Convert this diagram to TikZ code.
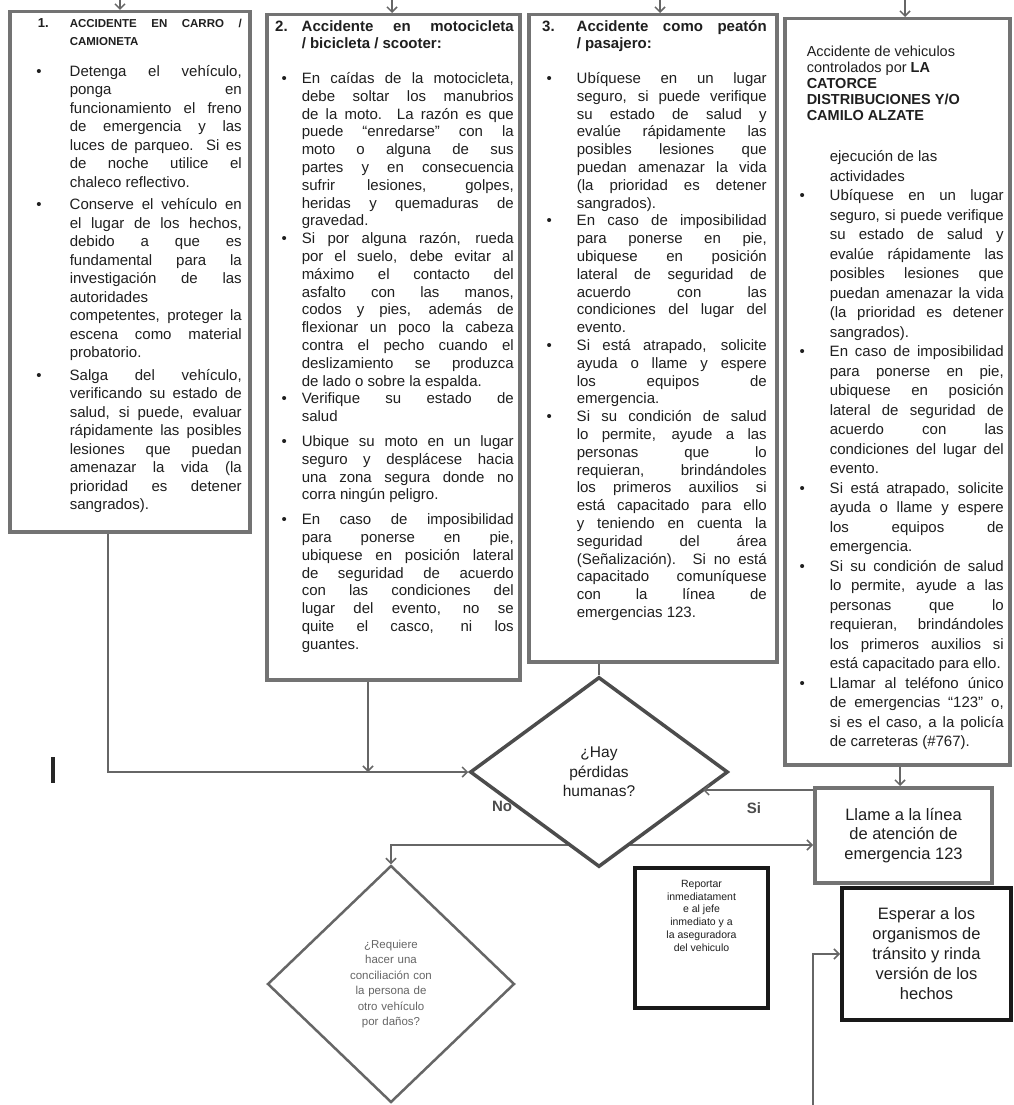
\documentclass[tikz,border=0pt]{standalone}
\usepackage{fontspec}
\setmainfont{Liberation Sans}
\usetikzlibrary{shapes.geometric,arrows.meta}
\pgfdeclarelayer{bg}
\pgfsetlayers{bg,main}
\definecolor{ink}{gray}{0.12}
\newlength\bsep
\newcommand\itm[1]{\noindent\llap{\textbullet\hspace{\bsep}}#1\par}
\newcommand\boxsetup[4]{\setlength\leftskip{#1}\setlength\rightskip{#2}\fontsize{#3}{#4}\selectfont\setlength\parindent{0pt}\setlength\parskip{0pt}\tolerance=10000 \hbadness=10000 \hyphenpenalty=10000 \color{ink}}
\begin{document}
\begin{tikzpicture}[x=1pt,y=-1pt,
  >={Straight Barb[length=5pt,width=10pt]},
  gbox/.style={draw=black!55, line width=3.5pt, inner sep=0pt, anchor=north west},
  conn/.style={draw=black!60, line width=1.5pt},
  lbl/.style={font=\fontsize{15pt}{18pt}\selectfont\bfseries, text=black!70, inner sep=1pt},
]
\begin{pgfonlayer}{bg}
\fill[white] (0,0) rectangle (1013,1105);
\end{pgfonlayer}
\useasboundingbox (0,0) rectangle (1013,1105);

% ---------- Box 1
\node[gbox] (b1) at (8,10) {\begin{minipage}[t][520pt][t]{240pt}\boxsetup{60pt}{8pt}{15pt}{18.5pt}\setlength\bsep{28pt}%
\vspace*{7pt}
{\fontsize{11.5pt}{18pt}\selectfont\bfseries\noindent\llap{\fontsize{13pt}{18pt}\selectfont 1.\hspace{21pt}}ACCIDENTE EN CARRO /\linebreak CAMIONETA\par}
\vspace{12pt}
\itm{Detenga el vehículo,\linebreak ponga en\linebreak funcionamiento el freno\linebreak de emergencia y las\linebreak luces de parqueo. Si es\linebreak de noche utilice el\linebreak chaleco reflectivo.}
\vspace{4pt}
\itm{Conserve el vehículo en\linebreak el lugar de los hechos,\linebreak debido a que es\linebreak fundamental para la\linebreak investigación de las\linebreak autoridades\linebreak competentes, proteger la\linebreak escena como material\linebreak probatorio.}
\vspace{4pt}
\itm{Salga del vehículo,\linebreak verificando su estado de\linebreak salud, si puede, evaluar\linebreak rápidamente las posibles\linebreak lesiones que puedan\linebreak amenazar la vida (la\linebreak prioridad es detener\linebreak sangrados).}
\end{minipage}};

% ---------- Box 2
\node[gbox] (b2) at (265,13) {\begin{minipage}[t][665pt][t]{253pt}\boxsetup{35pt}{6pt}{15pt}{17.8pt}\setlength\bsep{15pt}%
\vspace*{6pt}
{\fontsize{15pt}{17pt}\selectfont\bfseries\noindent\llap{2.\hspace{14pt}}Accidente en motocicleta\linebreak / bicicleta / scooter:\par}
\vspace{17pt}
\itm{En caídas de la motocicleta,\linebreak debe soltar los manubrios\linebreak de la moto. La razón es que\linebreak puede “enredarse” con la\linebreak moto o alguna de sus\linebreak partes y en consecuencia\linebreak sufrir lesiones, golpes,\linebreak heridas y quemaduras de\linebreak gravedad.}
\itm{Si por alguna razón, rueda\linebreak por el suelo, debe evitar al\linebreak máximo el contacto del\linebreak asfalto con las manos,\linebreak codos y pies, además de\linebreak flexionar un poco la cabeza\linebreak contra el pecho cuando el\linebreak deslizamiento se produzca\linebreak de lado o sobre la espalda.}
\itm{Verifique su estado de\linebreak salud}
\vspace{7pt}
\itm{Ubique su moto en un lugar\linebreak seguro y desplácese hacia\linebreak una zona segura donde no\linebreak corra ningún peligro.}
\vspace{7pt}
\itm{En caso de imposibilidad\linebreak para ponerse en pie,\linebreak ubiquese en posición lateral\linebreak de seguridad de acuerdo\linebreak con las condiciones del\linebreak lugar del evento, no se\linebreak quite el casco, ni los\linebreak guantes.}
\end{minipage}};

% ---------- Box 3
\node[gbox] (b3) at (527,13) {\begin{minipage}[t][647pt][t]{248pt}\boxsetup{48pt}{10pt}{15pt}{17.8pt}\setlength\bsep{25pt}%
\vspace*{6pt}
{\fontsize{15pt}{17pt}\selectfont\bfseries\noindent\llap{3.\hspace{22pt}}Accidente como peatón\linebreak / pasajero:\par}
\vspace{17pt}
\itm{Ubíquese en un lugar\linebreak seguro, si puede verifique\linebreak su estado de salud y\linebreak evalúe rápidamente las\linebreak posibles lesiones que\linebreak puedan amenazar la vida\linebreak (la prioridad es detener\linebreak sangrados).}
\itm{En caso de imposibilidad\linebreak para ponerse en pie,\linebreak ubiquese en posición\linebreak lateral de seguridad de\linebreak acuerdo con las\linebreak condiciones del lugar del\linebreak evento.}
\itm{Si está atrapado, solicite\linebreak ayuda o llame y espere\linebreak los equipos de\linebreak emergencia.}
\itm{Si su condición de salud\linebreak lo permite, ayude a las\linebreak personas que lo\linebreak requieran, brindándoles\linebreak los primeros auxilios si\linebreak está capacitado para ello\linebreak y teniendo en cuenta la\linebreak seguridad del área\linebreak (Señalización). Si no está\linebreak capacitado comuníquese\linebreak con la línea de\linebreak emergencias 123.}
\end{minipage}};

% ---------- Box 4
\node[gbox] (b4) at (783,17) {\begin{minipage}[t][746pt][t]{225pt}\boxsetup{45pt}{6pt}{15pt}{19.5pt}\setlength\bsep{25pt}%
\vspace*{27.5pt}
{\fontsize{14.5pt}{16pt}\selectfont\raggedright\setlength\leftskip{22pt}Accidente de vehiculos\\ controlados por \textbf{LA}\\ \textbf{CATORCE}\\ \textbf{DISTRIBUCIONES Y/O}\\ \textbf{CAMILO ALZATE}\par}
\vspace{21.5pt}
{\raggedright\setlength\leftskip{45pt}ejecución de las\\ actividades\par}
\itm{Ubíquese en un lugar\linebreak seguro, si puede verifique\linebreak su estado de salud y\linebreak evalúe rápidamente las\linebreak posibles lesiones que\linebreak puedan amenazar la vida\linebreak (la prioridad es detener\linebreak sangrados).}
\itm{En caso de imposibilidad\linebreak para ponerse en pie,\linebreak ubiquese en posición\linebreak lateral de seguridad de\linebreak acuerdo con las\linebreak condiciones del lugar del\linebreak evento.}
\itm{Si está atrapado, solicite\linebreak ayuda o llame y espere\linebreak los equipos de\linebreak emergencia.}
\itm{Si su condición de salud\linebreak lo permite, ayude a las\linebreak personas que lo\linebreak requieran, brindándoles\linebreak los primeros auxilios si\linebreak está capacitado para ello.}
\itm{Llamar al teléfono único\linebreak de emergencias “123” o,\linebreak si es el caso, a la policía\linebreak de carreteras (\#767).}
\end{minipage}};

% ---------- Lower nodes
\node[draw=black!55, line width=4pt, minimum width=177pt, minimum height=95pt, align=center, font=\fontsize{16.5pt}{19.5pt}\selectfont, text=ink] (llame) at (903.5,835.5) {Llame a la línea\\de atención de\\emergencia 123};

\node[draw=black!90, line width=4pt, minimum width=169pt, minimum height=132pt, align=center, font=\fontsize{16.5pt}{20pt}\selectfont, text=ink] (esp) at (926.5,954) {Esperar a los\\organismos de\\tránsito y rinda\\versión de los\\hechos};

\node[draw=black!90, line width=3.5pt, inner sep=0pt] (rep) at (701.5,938) {\begin{minipage}[t][140pt][t]{133pt}\centering\fontsize{10.5pt}{12.8pt}\selectfont\color{ink}\vspace*{12pt}Reportar\\ inmediatament\\ e al jefe\\ inmediato y a\\ la aseguradora\\ del vehiculo\par\end{minipage}};

\node[diamond, draw=black!70, line width=3.5pt, fill=white, minimum width=258pt, minimum height=190pt, inner sep=0pt, text width=95pt, align=center, font=\fontsize{15.5pt}{19.5pt}\selectfont, text=ink] (d1) at (599,772) {¿Hay\\pérdidas\\humanas?};

\node[diamond, draw=black!60, line width=2.5pt, fill=white, minimum width=247pt, minimum height=237pt, inner sep=0pt, text width=100pt, align=center, font=\fontsize{11.5pt}{15.5pt}\selectfont, text=black!60] (d2) at (391,984) {¿Requiere\\hacer una\\conciliación con\\la persona de\\otro vehículo\\por daños?};

\node[lbl] (no) at (502,806) {No};
\node[lbl] (si) at (754,808) {Si};

% ---------- Connectors
\coordinate (t1) at (120,0);
\coordinate (t2) at (392,0);
\coordinate (t3) at (660,0);
\coordinate (t4) at (905,0);
\draw[conn,->] (t1) -- (t1 |- b1.north);
\draw[conn,->] (t2) -- (t2 |- b2.north);
\draw[conn,->] (t3) -- (t3 |- b3.north);
\draw[conn,->] (t4) -- (t4 |- b4.north);

\coordinate (c1) at (108,772);
\draw[conn,->] (b1.south -| c1) -- (c1) -- (d1.west);
\coordinate (c2) at (368,772);
\draw[conn,->] (b2.south -| c2) -- (c2);
\draw[conn] (b3.south -| d1.north) -- (d1.north);
\coordinate (c4) at (900,0);
\draw[conn,->] (b4.south -| c4) -- (llame.north -| c4);
\coordinate (c5) at (703,790);
\draw[conn,->] (llame.west |- c5) -- (c5);
\begin{pgfonlayer}{bg}
\coordinate (c6) at (391,845);
\draw[conn,<->] (d2.north) -- (c6) -- (llame.west |- c6);
\end{pgfonlayer}
\coordinate (c7) at (813,1105);
\draw[conn,->] (c7) |- (esp.west);

% stray mark
\draw[line width=4pt, black!85] (53,757) -- (53,783);
\end{tikzpicture}
\end{document}
